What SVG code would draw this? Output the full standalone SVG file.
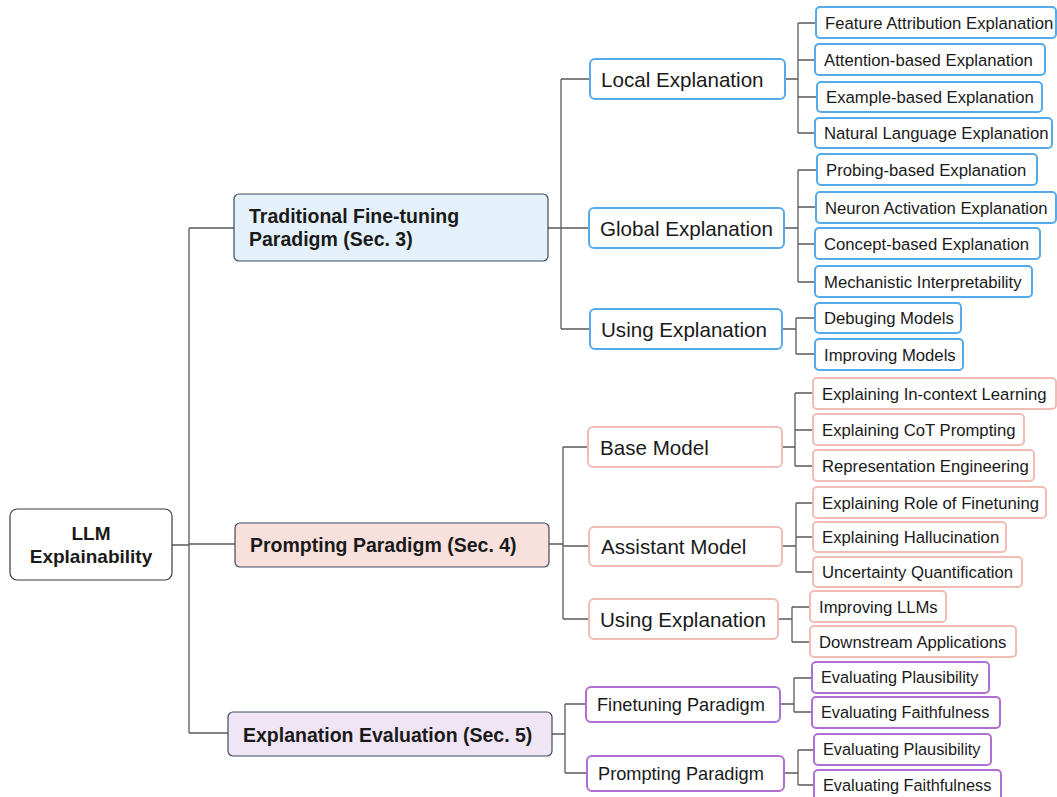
<svg xmlns="http://www.w3.org/2000/svg" width="1057" height="797" viewBox="0 0 1057 797">
<style>
  text { font-family: "Liberation Sans", Arial, sans-serif; fill: #1a1a1a; }
  .conn { fill: none; stroke: #5a5a5a; stroke-width: 1.3; }
  .root { fill: #ffffff; stroke: #3a3a3a; stroke-width: 1.2; }
  .l1b { fill: #e4f1fb; stroke: #3f4a5e; stroke-width: 1.2; }
  .l1p { fill: #f8e1dd; stroke: #3f4a5e; stroke-width: 1.2; }
  .l1v { fill: #efe5f4; stroke: #3f4a5e; stroke-width: 1.2; }
  .nb { fill: #ffffff; stroke: #55abea; stroke-width: 2; }
  .np { fill: #ffffff; stroke: #f0bcb5; stroke-width: 2; }
  .nv { fill: #ffffff; stroke: #b06fd2; stroke-width: 2; }
  .tRoot { font-size: 19px; font-weight: bold; text-anchor: middle; }
  .tL1 { font-size: 19.5px; font-weight: bold; }
  .tM { font-size: 20.6px; }
  .tME { font-size: 18.2px; }
  .tL { font-size: 16.7px; }
  .tLE { font-size: 16.3px; }
</style>

<g id="connectors">
  <path class="conn" d="M172,545 H189 M189,228 V733 M189,228 H234 M189,544 H235 M189,733 H228"/>
  <path class="conn" d="M548,228 H561 M561,79 V329 M561,79 H590 M561,228 H589 M561,329 H590"/>
  <path class="conn" d="M785,79 H798 M798,23 V133 M798,23 H816 M798,60 H815 M798,97 H817 M798,133 H815"/>
  <path class="conn" d="M784,228 H798 M798,170 V282 M798,170 H817 M798,207 H816 M798,244 H815 M798,282 H815"/>
  <path class="conn" d="M782,329 H796 M796,318 V354 M796,318 H815 M796,354 H815"/>
  <path class="conn" d="M549,544 H563 M563,447 V619 M563,447 H588 M563,546 H589 M563,619 H589"/>
  <path class="conn" d="M782,447 H795 M795,393 V466 M795,393 H813 M795,430 H813 M795,466 H813"/>
  <path class="conn" d="M782,546 H796 M796,503 V572 M796,503 H813 M796,537 H813 M796,572 H813"/>
  <path class="conn" d="M778,619 H792 M792,607 V642 M792,607 H810 M792,642 H810"/>
  <path class="conn" d="M552,734 H565 M565,704 V773 M565,704 H586 M565,773 H587"/>
  <path class="conn" d="M780,704 H794 M794,678 V712 M794,678 H812 M794,712 H812"/>
  <path class="conn" d="M784,773 H798 M798,750 V785 M798,750 H814 M798,785 H814"/>
</g>

<g id="root">
  <rect class="root" x="10" y="509" width="162" height="71" rx="7"/>
  <text class="tRoot" x="91" y="540">LLM</text>
  <text class="tRoot" x="91" y="563">Explainability</text>
</g>

<g id="traditional">
  <rect class="l1b" x="234" y="194" width="314" height="67" rx="5"/>
  <text class="tL1" x="249" y="222.5">Traditional Fine-tuning</text>
  <text class="tL1" x="249" y="245.5">Paradigm (Sec. 3)</text>
</g>
<g id="prompting">
  <rect class="l1p" x="235" y="523" width="314" height="44" rx="5"/>
  <text class="tL1" x="250" y="552">Prompting Paradigm (Sec. 4)</text>
</g>
<g id="evaluation">
  <rect class="l1v" x="228" y="712" width="324" height="44" rx="5"/>
  <text class="tL1" x="243" y="742">Explanation Evaluation (Sec. 5)</text>
</g>

<g id="local">
  <rect class="nb" x="590" y="59" width="195" height="40" rx="5"/>
  <text class="tM" x="601" y="86.5">Local Explanation</text>
</g>
<g id="global">
  <rect class="nb" x="589" y="208" width="195" height="40" rx="5"/>
  <text class="tM" x="600" y="235.5">Global Explanation</text>
</g>
<g id="using1">
  <rect class="nb" x="590" y="309" width="192" height="40" rx="5"/>
  <text class="tM" x="601" y="336.5">Using Explanation</text>
</g>

<g id="feature"><rect class="nb" x="816" y="7" width="240" height="31" rx="4"/><text class="tL" x="825" y="28.5">Feature Attribution Explanation</text></g>
<g id="attention"><rect class="nb" x="815" y="44" width="230" height="31" rx="4"/><text class="tL" x="824" y="65.5">Attention-based Explanation</text></g>
<g id="example"><rect class="nb" x="817" y="82" width="225" height="30" rx="4"/><text class="tL" x="826" y="103">Example-based Explanation</text></g>
<g id="natural"><rect class="nb" x="815" y="118" width="237" height="30" rx="4"/><text class="tL" x="824" y="139">Natural Language Explanation</text></g>

<g id="probing"><rect class="nb" x="817" y="154" width="220" height="31" rx="4"/><text class="tL" x="826" y="175.5">Probing-based Explanation</text></g>
<g id="neuron"><rect class="nb" x="816" y="192" width="240" height="31" rx="4"/><text class="tL" x="825" y="213.5">Neuron Activation Explanation</text></g>
<g id="concept"><rect class="nb" x="815" y="228" width="225" height="31" rx="4"/><text class="tL" x="824" y="249.5">Concept-based Explanation</text></g>
<g id="mechanistic"><rect class="nb" x="815" y="266" width="217" height="31" rx="4"/><text class="tL" x="824" y="287.5">Mechanistic Interpretability</text></g>

<g id="debuging"><rect class="nb" x="815" y="303" width="146" height="30" rx="4"/><text class="tL" x="824" y="324">Debuging Models</text></g>
<g id="improving-models"><rect class="nb" x="815" y="339" width="148" height="31" rx="4"/><text class="tL" x="824" y="360.5">Improving Models</text></g>

<g id="base">
  <rect class="np" x="588" y="427" width="194" height="40" rx="5"/>
  <text class="tM" x="600" y="454.5">Base Model</text>
</g>
<g id="assistant">
  <rect class="np" x="589" y="527" width="193" height="39" rx="5"/>
  <text class="tM" x="601" y="554">Assistant Model</text>
</g>
<g id="using2">
  <rect class="np" x="589" y="599" width="189" height="40" rx="5"/>
  <text class="tM" x="600" y="626.5">Using Explanation</text>
</g>

<g id="incontext"><rect class="np" x="813" y="378" width="243" height="31" rx="4"/><text class="tL" x="822" y="399.5">Explaining In-context Learning</text></g>
<g id="cot"><rect class="np" x="813" y="414" width="211" height="31" rx="4"/><text class="tL" x="822" y="435.5">Explaining CoT Prompting</text></g>
<g id="representation"><rect class="np" x="813" y="450" width="221" height="31" rx="4"/><text class="tL" x="822" y="471.5">Representation Engineering</text></g>

<g id="finetuning-role"><rect class="np" x="813" y="487" width="233" height="31" rx="4"/><text class="tL" x="822" y="508.5">Explaining Role of Finetuning</text></g>
<g id="hallucination"><rect class="np" x="813" y="522" width="193" height="30" rx="4"/><text class="tL" x="822" y="543">Explaining Hallucination</text></g>
<g id="uncertainty"><rect class="np" x="813" y="557" width="209" height="30" rx="4"/><text class="tL" x="822" y="578">Uncertainty Quantification</text></g>

<g id="improving-llms"><rect class="np" x="810" y="591" width="136" height="31" rx="4"/><text class="tL" x="819" y="612.5">Improving LLMs</text></g>
<g id="downstream"><rect class="np" x="810" y="626" width="206" height="31" rx="4"/><text class="tL" x="819" y="647.5">Downstream Applications</text></g>

<g id="finetuning-paradigm">
  <rect class="nv" x="586" y="687" width="194" height="35" rx="5"/>
  <text class="tME" x="597" y="710.5">Finetuning Paradigm</text>
</g>
<g id="prompting-paradigm">
  <rect class="nv" x="587" y="756" width="197" height="35" rx="5"/>
  <text class="tME" x="598" y="779.5">Prompting Paradigm</text>
</g>

<g id="plaus1"><rect class="nv" x="812" y="662" width="177" height="31" rx="4"/><text class="tLE" x="821" y="683">Evaluating Plausibility</text></g>
<g id="faith1"><rect class="nv" x="812" y="697" width="188" height="31" rx="4"/><text class="tLE" x="821" y="718">Evaluating Faithfulness</text></g>
<g id="plaus2"><rect class="nv" x="814" y="734" width="177" height="31" rx="4"/><text class="tLE" x="823" y="755">Evaluating Plausibility</text></g>
<g id="faith2"><rect class="nv" x="814" y="770" width="187" height="31" rx="4"/><text class="tLE" x="823" y="791">Evaluating Faithfulness</text></g>
</svg>
